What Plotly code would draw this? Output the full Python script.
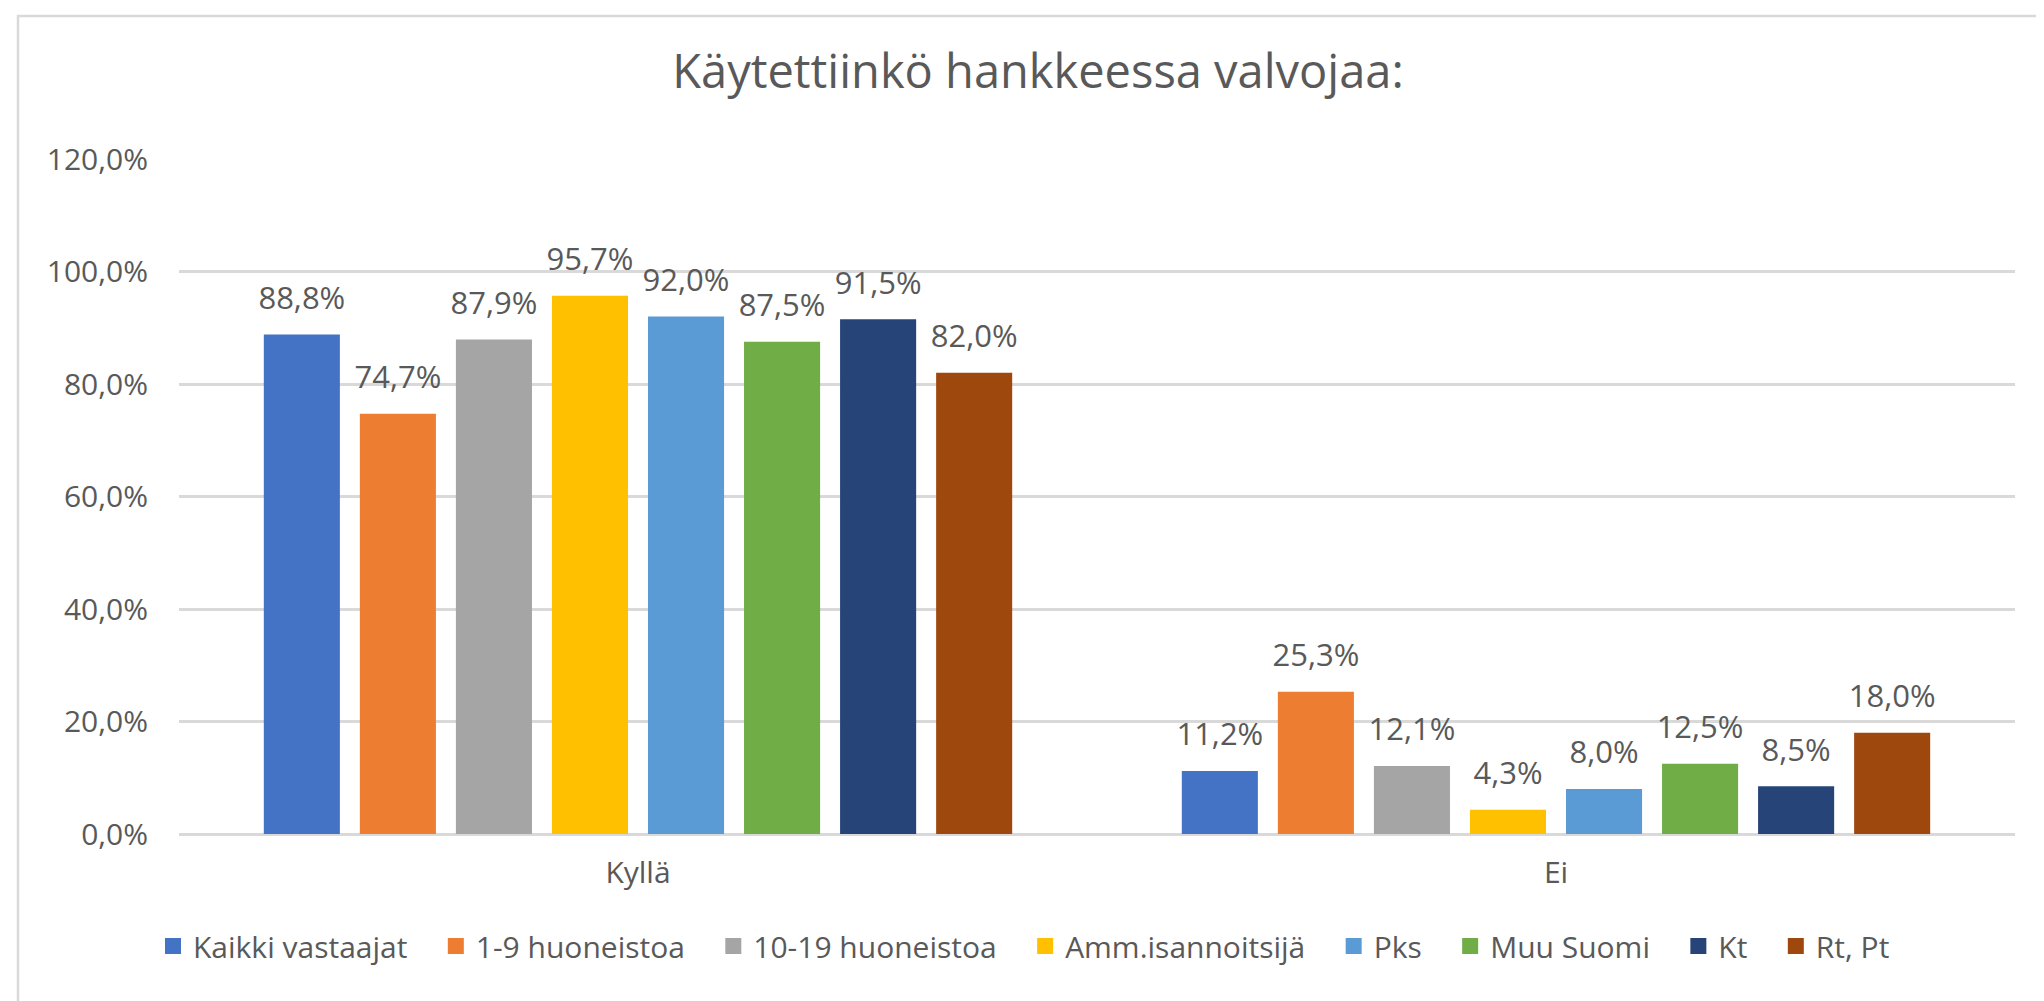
import plotly.graph_objects as go

categories = ["Kyllä", "Ei"]
series_names = ["Kaikki vastaajat", "1-9 huoneistoa", "10-19 huoneistoa", "Amm.isannoitsijä",
                "Pks", "Muu Suomi", "Kt", "Rt, Pt"]
kaikki = [88.8, 11.2]
h1_9 = [74.7, 25.3]
h10_19 = [87.9, 12.1]
amm = [95.7, 4.3]
pks = [92.0, 8.0]
muu = [87.5, 12.5]
kt = [91.5, 8.5]
rtpt = [82.0, 18.0]
series_values = [kaikki, h1_9, h10_19, amm, pks, muu, kt, rtpt]
colors = ["#4472C4", "#ED7D31", "#A5A5A5", "#FFC000", "#5B9BD5", "#70AD47", "#264478", "#9E480E"]
y_ticks = [0, 20, 40, 60, 80, 100, 120]
y_ticktext = [f"{v:.1f}%".replace(".", ",") for v in y_ticks]

TXT = "#595959"
FONT = "Open Sans"
PAD = "\u00a0\u00a0\u00a0"

fig = go.Figure()
for i, (name, vals, col) in enumerate(zip(series_names, series_values, colors)):
    fig.add_trace(go.Bar(
        x=categories, y=vals, name=name, marker=dict(color=col, line=dict(width=0)),
        offsetgroup=str(i), legendgroup=str(i), showlegend=False,
        hovertemplate=name + ": %{y:.1f}%<extra></extra>",
    ))
for i, (name, vals, col) in enumerate(zip(series_names, series_values, colors)):
    fig.add_trace(go.Scatter(
        x=categories, y=vals, mode="markers+text", showlegend=False,
        text=[f"{v:.1f}%".replace(".", ",") for v in vals],
        textposition="top center", textfont=dict(size=31, color=TXT, family=FONT),
        marker=dict(size=27, opacity=0), offsetgroup=str(i), legendgroup=str(i),
        hoverinfo="skip", cliponaxis=False,
    ))
    # legend entry (square swatch)
    fig.add_trace(go.Scatter(
        x=[None], y=[None], mode="markers", name=name + PAD, showlegend=True,
        marker=dict(symbol="square", size=18, color=col), offsetgroup=str(i),
        legendgroup=str(i), hoverinfo="skip",
    ))

W, H = 2044, 1001
L, R, T, B = 171, 37, 151, 175
ph = H - T - B
pw = W - L - R

fig.add_shape(type="rect", xref="paper", yref="paper",
              x0=(10 - L) / pw, x1=1.05, y0=(H - B - 998) / ph, y1=(H - B - 8) / ph,
              line=dict(color="#D9D9D9", width=2.5), fillcolor="rgba(0,0,0,0)", layer="below")

fig.update_layout(
    width=W, height=H,
    margin=dict(l=L, r=R, t=T, b=B, autoexpand=False),
    paper_bgcolor="white", plot_bgcolor="white",
    font=dict(family=FONT, color=TXT, size=30),
    separators=",.",
    barmode="group", bargap=0.163, bargroupgap=0.208,
    scattermode="group", scattergap=0.163,
    title=dict(text="Käytettiinkö hankkeessa valvojaa:", x=1030 / W, xanchor="center",
               y=1 - 64 / H, yanchor="middle", xref="container", yref="container",
               font=dict(size=47, color=TXT, family=FONT)),
    legend=dict(orientation="h", xref="container", yref="container", x=145 / W, xanchor="left",
                y=1 - 938 / H, yanchor="middle", font=dict(size=30, color=TXT, family=FONT),
                traceorder="normal", itemclick=False, itemdoubleclick=False),
    showlegend=True,
)
fig.update_xaxes(showgrid=False, showline=False, zeroline=False, ticks="",
                 tickfont=dict(size=30, color=TXT), ticklabelstandoff=18)
fig.update_yaxes(range=[0, 120], tickvals=y_ticks, ticktext=y_ticktext,
                 showgrid=True, gridcolor="#D9D9D9", gridwidth=2.5,
                 zeroline=True, zerolinecolor="#D9D9D9", zerolinewidth=2.5,
                 showline=False, ticks="", tickfont=dict(size=30, color=TXT),
                 ticklabelstandoff=30)

fig.write_html("out.html")
